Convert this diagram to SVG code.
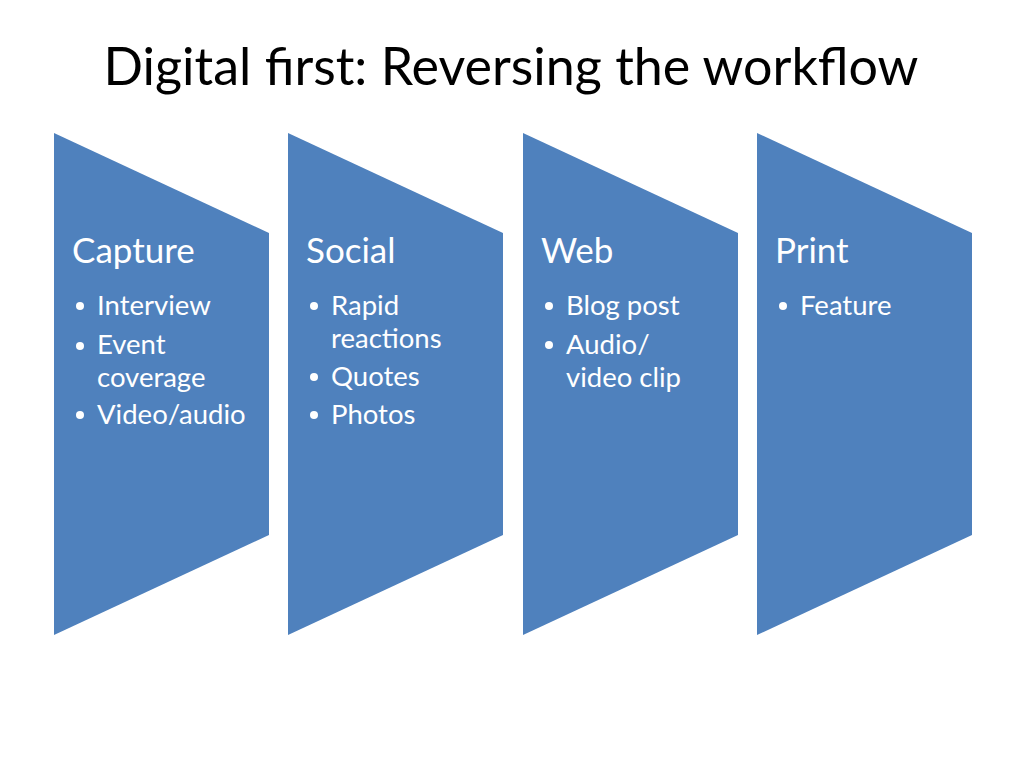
<svg xmlns="http://www.w3.org/2000/svg" width="1024" height="768" viewBox="0 0 1024 768">
<style>
.shape{fill:#4F81BD}
.title{font-family:"Lato","Open Sans",sans-serif;font-size:52px;fill:#000}
.head{font-family:"Lato","Open Sans",sans-serif;font-size:35px;fill:#fff}
.item{font-family:"Lato","Open Sans",sans-serif;font-size:27.5px;fill:#fff}
.dot{fill:#fff}
</style>
<rect width="1024" height="768" fill="#fff"/>
<text class="title" x="511" y="85" text-anchor="middle">Digital first: Reversing the workflow</text>
<g id="capture">
<polygon class="shape" points="54,133 269,233 269,535 54,635"/>
<text class="head" x="72" y="263">Capture</text>
<circle class="dot" cx="80" cy="306" r="4"/>
<text class="item" x="97" y="315">Interview</text>
<circle class="dot" cx="80" cy="346" r="4"/>
<text class="item" x="97" y="354">Event</text>
<text class="item" x="97" y="387">coverage</text>
<circle class="dot" cx="80" cy="415" r="4"/>
<text class="item" x="97" y="424">Video/audio</text>
</g>
<g id="social">
<polygon class="shape" points="288,133 503,233 503,535 288,635"/>
<text class="head" x="306" y="263">Social</text>
<circle class="dot" cx="314" cy="306" r="4"/>
<text class="item" x="331" y="315">Rapid</text>
<text class="item" x="331" y="348">reactions</text>
<circle class="dot" cx="314" cy="377" r="4"/>
<text class="item" x="331" y="386">Quotes</text>
<circle class="dot" cx="314" cy="415" r="4"/>
<text class="item" x="331" y="424">Photos</text>
</g>
<g id="web">
<polygon class="shape" points="523,133 738,233 738,535 523,635"/>
<text class="head" x="541" y="263">Web</text>
<circle class="dot" cx="549" cy="306" r="4"/>
<text class="item" x="566" y="315">Blog post</text>
<circle class="dot" cx="549" cy="345" r="4"/>
<text class="item" x="566" y="354">Audio/</text>
<text class="item" x="566" y="387">video clip</text>
</g>
<g id="print">
<polygon class="shape" points="757,133 972,233 972,535 757,635"/>
<text class="head" x="775" y="263">Print</text>
<circle class="dot" cx="783" cy="306" r="4"/>
<text class="item" x="800" y="315">Feature</text>
</g>
<g id="connectors"></g>
</svg>
